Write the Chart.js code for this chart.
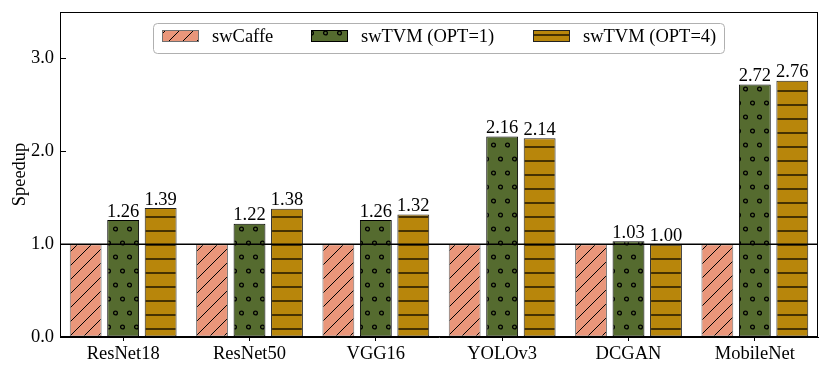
<!DOCTYPE html>
<html>
<head>
<meta charset="utf-8">
<script src="https://cdn.jsdelivr.net/npm/chart.js@4.4.0/dist/chart.umd.min.js"></script>
<style>
html,body{margin:0;padding:0;background:#fff;}
#wrap{width:830px;height:374px;position:relative;}
</style>
</head>
<body>
<div id="wrap"><canvas id="c" width="830" height="374"></canvas></div>
<script>
const categories = ['ResNet18','ResNet50','VGG16','YOLOv3','DCGAN','MobileNet'];
const seriesNames = ['swCaffe','swTVM (OPT=1)','swTVM (OPT=4)'];
const swCaffe = [1.00,1.00,1.00,1.00,1.00,1.00];
const swTVMopt1 = [1.26,1.22,1.26,2.16,1.03,2.72];
const swTVMopt4 = [1.39,1.38,1.32,2.14,1.00,2.76];
const yTicks = [0,1,2,3];

const FONT = '"Liberation Serif","Times New Roman",Times,serif';
const FS = 18.5;

function makeTile(w,h,bg,draw){
  const cv=document.createElement('canvas');cv.width=w;cv.height=h;
  const g=cv.getContext('2d');g.fillStyle=bg;g.fillRect(0,0,w,h);draw(g);
  return cv;
}
const tileHatch = makeTile(14,14,'#E9967A',g=>{
  g.strokeStyle='#000';g.lineWidth=1;
  for(const k of [-14,0,14]){g.beginPath();g.moveTo(k,14);g.lineTo(k+14,0);g.stroke();}
});
const tileDots = makeTile(14,28,'#556B2F',g=>{
  g.strokeStyle='#000';g.lineWidth=1.3;
  for(const [x,y] of [[3.5,5],[10.5,19]]){g.beginPath();g.arc(x,y,1.9,0,Math.PI*2);g.stroke();}
});
const tileLines = makeTile(14,14,'#B8860B',g=>{
  g.strokeStyle='#1f1500';g.lineWidth=1.5;g.beginPath();g.moveTo(0,7);g.lineTo(14,7);g.stroke();
});
const ctx0=document.getElementById('c').getContext('2d');
const patHatch=ctx0.createPattern(tileHatch,'repeat');
const patDots=ctx0.createPattern(tileDots,'repeat');
const patLines=ctx0.createPattern(tileLines,'repeat');
const fills=[patHatch,patDots,patLines];
const edges=['#707070','#000000','#222222'];

const extras = {
  id:'extras',
  afterDatasetsDraw(chart){
    const {ctx,chartArea:a,scales:{y}}=chart;
    ctx.save();
    // inward y ticks
    ctx.strokeStyle='#000';ctx.lineWidth=1;
    y.ticks.forEach(t=>{
      const p=Math.round(y.getPixelForValue(t.value))+0.5;
      ctx.beginPath();ctx.moveTo(a.left,p);ctx.lineTo(a.left+6,p);ctx.stroke();
    });
    // reference line at 1.0
    const py=y.getPixelForValue(1);
    ctx.lineWidth=1.5;
    ctx.beginPath();ctx.moveTo(a.left,py);ctx.lineTo(a.right,py);ctx.stroke();
    // value labels
    ctx.fillStyle='#000';ctx.font=FS+'px '+FONT;ctx.textAlign='center';ctx.textBaseline='bottom';
    [1,2].forEach(di=>{
      const meta=chart.getDatasetMeta(di);
      meta.data.forEach((el,i)=>{
        const v=chart.data.datasets[di].data[i];
        ctx.fillText(v.toFixed(2),el.x,el.y+1);
      });
    });
    // frame
    ctx.strokeStyle='#000';ctx.lineWidth=1;
    ctx.strokeRect(a.left+0.5,a.top+0.5,a.right-a.left-1,a.bottom-a.top-1);
    // legend
    const bx=153.5,by=23.5,bw=571,bh=30,r=4;
    ctx.fillStyle='rgba(255,255,255,0.85)';ctx.strokeStyle='#b0b0b0';ctx.lineWidth=1;
    ctx.beginPath();
    ctx.moveTo(bx+r,by);ctx.lineTo(bx+bw-r,by);ctx.quadraticCurveTo(bx+bw,by,bx+bw,by+r);
    ctx.lineTo(bx+bw,by+bh-r);ctx.quadraticCurveTo(bx+bw,by+bh,bx+bw-r,by+bh);
    ctx.lineTo(bx+r,by+bh);ctx.quadraticCurveTo(bx,by+bh,bx,by+bh-r);
    ctx.lineTo(bx,by+r);ctx.quadraticCurveTo(bx,by,bx+r,by);ctx.closePath();
    ctx.fill();ctx.stroke();
    const sx=[162,311,533];
    ctx.font=FS+'px '+FONT;ctx.textAlign='left';ctx.textBaseline='middle';
    chart.data.datasets.forEach((ds,i)=>{
      ctx.fillStyle=fills[i];ctx.fillRect(sx[i],30,37,12);
      ctx.strokeStyle=edges[i];ctx.lineWidth=1;ctx.strokeRect(sx[i]+0.5,30.5,36,11);
      ctx.fillStyle='#000';ctx.fillText(ds.label,sx[i]+50,37);
    });
    ctx.restore();
  }
};

const mk=(i,data)=>({label:seriesNames[i],data:data,backgroundColor:fills[i],borderColor:edges[i],borderWidth:1,borderSkipped:false,categoryPercentage:0.89,barPercentage:0.85});

new Chart(ctx0,{
  type:'bar',
  data:{labels:categories,datasets:[mk(0,swCaffe),mk(1,swTVMopt1),mk(2,swTVMopt4)]},
  options:{
    responsive:false,animation:false,devicePixelRatio:1,
    layout:{padding:{left:0,right:12,top:12,bottom:0}},
    plugins:{legend:{display:false},tooltip:{enabled:false}},
    scales:{
      x:{
        grid:{display:true,drawOnChartArea:false,tickLength:4,color:'#000',tickColor:'#000',offset:false},
        border:{display:true,color:'#000',width:1},
        ticks:{color:'#000',font:{family:FONT,size:FS},padding:2,maxRotation:0},
        afterFit(s){s.height=37;s.paddingLeft=0;s.paddingRight=0;}
      },
      y:{
        min:0,max:3.5,
        afterBuildTicks(s){s.ticks=yTicks.map(v=>({value:v}));},
        grid:{display:true,drawOnChartArea:false,drawTicks:false,tickLength:0},
        border:{display:true,color:'#000',width:1},
        ticks:{color:'#000',font:{family:FONT,size:FS},padding:6,callback:v=>v.toFixed(1)},
        title:{display:true,text:'Speedup',color:'#000',font:{family:FONT,size:FS},padding:{top:9,bottom:0}},
        afterFit(s){s.width=60;s.paddingTop=0;s.paddingBottom=0;}
      }
    }
  },
  plugins:[extras]
});
</script>
</body>
</html>
